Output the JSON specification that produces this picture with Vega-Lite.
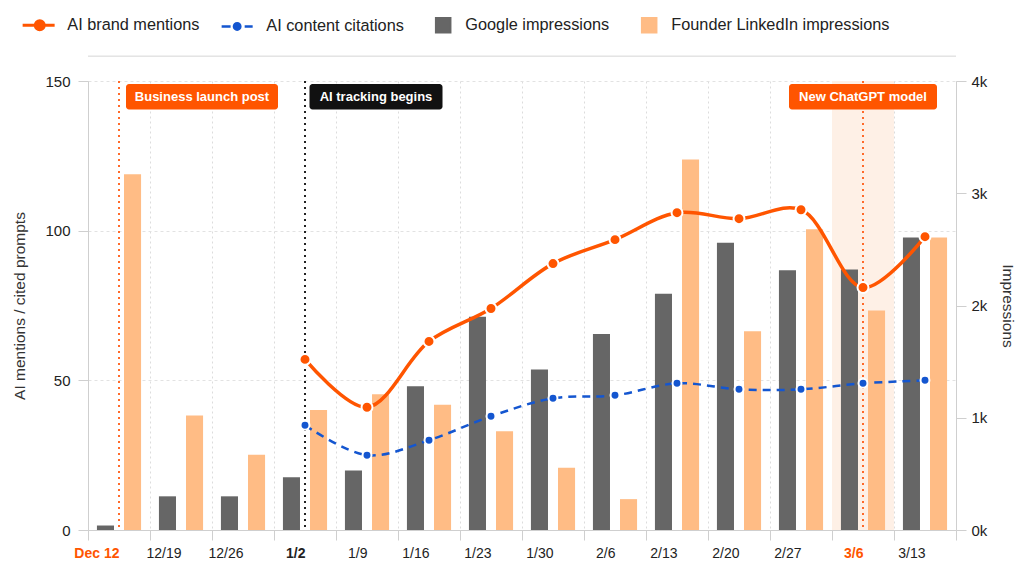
{
  "$schema": "https://vega.github.io/schema/vega-lite/v6.json",
  "width": 868,
  "height": 449,
  "autosize": {"type": "none"},
  "padding": {"left": 88, "top": 81, "right": 68, "bottom": 50},
  "background": "white",
  "config": {
    "font": "Liberation Sans",
    "view": {"stroke": null},
    "axis": {"labelColor": "#222222", "titleColor": "#333333", "titleFontWeight": "normal", "titleFontSize": 15.5}
  },
  "datasets": {
    "bars": [
      {"week": "Dec 12", "series": "Google impressions", "value": 40},
      {"week": "Dec 12", "series": "Founder LinkedIn impressions", "value": 3170},
      {"week": "12/19", "series": "Google impressions", "value": 300},
      {"week": "12/19", "series": "Founder LinkedIn impressions", "value": 1020},
      {"week": "12/26", "series": "Google impressions", "value": 300},
      {"week": "12/26", "series": "Founder LinkedIn impressions", "value": 670},
      {"week": "1/2", "series": "Google impressions", "value": 470},
      {"week": "1/2", "series": "Founder LinkedIn impressions", "value": 1070},
      {"week": "1/9", "series": "Google impressions", "value": 530},
      {"week": "1/9", "series": "Founder LinkedIn impressions", "value": 1210},
      {"week": "1/16", "series": "Google impressions", "value": 1280},
      {"week": "1/16", "series": "Founder LinkedIn impressions", "value": 1115},
      {"week": "1/23", "series": "Google impressions", "value": 1900},
      {"week": "1/23", "series": "Founder LinkedIn impressions", "value": 880},
      {"week": "1/30", "series": "Google impressions", "value": 1430},
      {"week": "1/30", "series": "Founder LinkedIn impressions", "value": 555},
      {"week": "2/6", "series": "Google impressions", "value": 1745},
      {"week": "2/6", "series": "Founder LinkedIn impressions", "value": 275},
      {"week": "2/13", "series": "Google impressions", "value": 2105},
      {"week": "2/13", "series": "Founder LinkedIn impressions", "value": 3300},
      {"week": "2/20", "series": "Google impressions", "value": 2560},
      {"week": "2/20", "series": "Founder LinkedIn impressions", "value": 1770},
      {"week": "2/27", "series": "Google impressions", "value": 2315},
      {"week": "2/27", "series": "Founder LinkedIn impressions", "value": 2680},
      {"week": "3/6", "series": "Google impressions", "value": 2320},
      {"week": "3/6", "series": "Founder LinkedIn impressions", "value": 1955},
      {"week": "3/13", "series": "Google impressions", "value": 2605},
      {"week": "3/13", "series": "Founder LinkedIn impressions", "value": 2605}
    ],
    "lines": [
      {"week": "1/2", "series": "AI brand mentions", "value": 57},
      {"week": "1/9", "series": "AI brand mentions", "value": 41},
      {"week": "1/16", "series": "AI brand mentions", "value": 63},
      {"week": "1/23", "series": "AI brand mentions", "value": 74},
      {"week": "1/30", "series": "AI brand mentions", "value": 89},
      {"week": "2/6", "series": "AI brand mentions", "value": 97},
      {"week": "2/13", "series": "AI brand mentions", "value": 106},
      {"week": "2/20", "series": "AI brand mentions", "value": 104},
      {"week": "2/27", "series": "AI brand mentions", "value": 107},
      {"week": "3/6", "series": "AI brand mentions", "value": 81},
      {"week": "3/13", "series": "AI brand mentions", "value": 98},
      {"week": "1/2", "series": "AI content citations", "value": 35},
      {"week": "1/9", "series": "AI content citations", "value": 25},
      {"week": "1/16", "series": "AI content citations", "value": 30},
      {"week": "1/23", "series": "AI content citations", "value": 38},
      {"week": "1/30", "series": "AI content citations", "value": 44},
      {"week": "2/6", "series": "AI content citations", "value": 45},
      {"week": "2/13", "series": "AI content citations", "value": 49},
      {"week": "2/20", "series": "AI content citations", "value": 47},
      {"week": "2/27", "series": "AI content citations", "value": 47},
      {"week": "3/6", "series": "AI content citations", "value": 49},
      {"week": "3/13", "series": "AI content citations", "value": 50}
    ],
    "events": [
      {"week": "Dec 12", "label": "Business launch post"},
      {"week": "1/2", "label": "AI tracking begins"},
      {"week": "3/6", "label": "New ChatGPT model"}
    ]
  },
  "layer": [
    {
      "layer": [
        {
          "data": {"values": [{"week": "3/6"}]},
          "mark": {"type": "rect", "fill": "#FEF0E6"},
          "encoding": {
            "x": {"field": "week", "type": "nominal"},
            "y": {"datum": 0, "type": "quantitative"},
            "y2": {"datum": 4000}
          }
        },
        {
          "data": {"name": "bars"},
          "mark": {"type": "bar"},
          "encoding": {
            "x": {
              "field": "week",
              "type": "nominal",
              "scale": {
                "domain": ["Dec 12", "12/19", "12/26", "1/2", "1/9", "1/16", "1/23", "1/30", "2/6", "2/13", "2/20", "2/27", "3/6", "3/13"],
                "paddingInner": 0,
                "paddingOuter": 0
              },
              "axis": {
                "title": null,
                "zindex": 0,
                "labelAngle": 0,
                "tickBand": "extent",
                "grid": true,
                "gridDash": [2, 3],
                "gridColor": "#dcdcdc",
                "tickColor": "#cfcfcf",
                "tickSize": 10,
                "domainColor": "#cfcfcf",
                "labelFontSize": 14,
                "labelPadding": 13,
                "labelColor": {"condition": {"test": "datum.value === 'Dec 12' || datum.value === '3/6'", "value": "#FF5500"}, "value": "#222222"},
                "labelFontWeight": {"condition": {"test": "datum.value === 'Dec 12' || datum.value === '3/6' || datum.value === '1/2'", "value": "bold"}, "value": "normal"}
              }
            },
            "xOffset": {
              "field": "series",
              "scale": {"domain": ["Google impressions", "Founder LinkedIn impressions"], "paddingInner": 0.37, "paddingOuter": 0.33}
            },
            "y": {
              "field": "value",
              "type": "quantitative",
              "scale": {"domain": [0, 4000], "nice": false},
              "axis": {
                "orient": "right",
                "zindex": 0,
                "title": "Impressions",
                "values": [0, 1000, 2000, 3000, 4000],
                "format": "~s",
                "grid": false,
                "tickColor": "#cfcfcf",
                "tickSize": 10,
                "domainColor": "#cfcfcf",
                "labelFontSize": 15,
                "labelPadding": 5,
                "titlePadding": 13
              }
            },
            "color": {
              "field": "series",
              "type": "nominal",
              "scale": {
                "domain": ["AI brand mentions", "AI content citations", "Google impressions", "Founder LinkedIn impressions"],
                "range": ["#FF5500", "#1456D0", "#666666", "#FFBC85"]
              },
              "legend": {
                "title": null,
                "orient": "none",
                "legendX": -66,
                "legendY": -64,
                "direction": "horizontal",
                "padding": 0,
                "symbolType": "square",
                "symbolSize": 1024,
                "symbolStrokeWidth": 0,
                "labelFontSize": 16.3,
                "labelColor": "#222222",
                "labelOffset": 29,
                "labelLimit": 400,
                "columnPadding": 16,
                "encode": {
                  "symbols": {
                    "update": {
                      "shape": {"signal": "datum.value === 'AI brand mentions' ? 'M-0.47,0H1.53M0.32,0A0.28,0.28,0,1,0,0.88,0A0.28,0.28,0,1,0,0.32,0Z' : datum.value === 'AI content citations' ? 'M-0.47,0H0.09M0.97,0H1.47M0.3,0A0.2,0.2,0,1,0,0.7,0A0.2,0.2,0,1,0,0.3,0Z' : 'M0.47,-0.47H1.41V0.47H0.47Z'"},
                      "fill": {"signal": "datum.value === 'AI brand mentions' ? '#FF5500' : datum.value === 'AI content citations' ? '#1456D0' : datum.value === 'Google impressions' ? '#666666' : '#FFC897'"},
                      "stroke": {"signal": "datum.value === 'AI brand mentions' ? '#FF5500' : datum.value === 'AI content citations' ? '#1456D0' : datum.value === 'Google impressions' ? '#333333' : '#FF6A1A'"},
                      "strokeWidth": {"signal": "datum.value === 'AI brand mentions' ? 3 : datum.value === 'AI content citations' ? 2.5 : 1.5"},
                      "opacity": {"value": 1},
                      "fillOpacity": {"value": 1},
                      "strokeOpacity": {"value": 1}
                    }
                  }
                }
              }
            }
          }
        }
      ]
    },
    {
      "layer": [
        {
          "data": {"values": [{}]},
          "mark": {"type": "rule", "color": "#d6d6d6", "strokeWidth": 1},
          "encoding": {"y": {"datum": 158.3, "type": "quantitative"}}
        },
        {
          "data": {"name": "events"},
          "mark": {"type": "rule", "strokeDash": [2, 4], "strokeWidth": 2},
          "encoding": {
            "x": {"field": "week", "type": "nominal"},
            "color": {"condition": {"test": "datum.week === '1/2'", "value": "#222222"}, "value": "#FF6A2A"}
          }
        },
        {
          "data": {"name": "lines"},
          "transform": [{"filter": "datum.series === 'AI brand mentions'"}],
          "mark": {"type": "line", "interpolate": "catmull-rom", "strokeWidth": 3.5},
          "encoding": {
            "x": {"field": "week", "type": "nominal"},
            "y": {
              "field": "value",
              "type": "quantitative",
              "scale": {"domain": [0, 150], "nice": false},
              "axis": {
                "orient": "left",
                "zindex": 0,
                "title": "AI mentions / cited prompts",
                "values": [0, 50, 100, 150],
                "grid": true,
                "gridDash": [3, 3],
                "gridColor": "#e2e2e2",
                "tickColor": "#cfcfcf",
                "tickSize": 10,
                "domainColor": "#cfcfcf",
                "labelFontSize": 15,
                "labelPadding": 8,
                "titlePadding": 17
              }
            },
            "color": {"field": "series", "type": "nominal"},
            "order": {"value": null}
          }
        },
        {
          "data": {"name": "lines"},
          "transform": [{"filter": "datum.series === 'AI content citations'"}],
          "mark": {"type": "line", "interpolate": "catmull-rom", "strokeWidth": 2.5, "strokeDash": [8, 6]},
          "encoding": {
            "x": {"field": "week", "type": "nominal"},
            "y": {"field": "value", "type": "quantitative"},
            "color": {"field": "series", "type": "nominal"},
            "order": {"value": null}
          }
        },
        {
          "data": {"name": "lines"},
          "mark": {"type": "point", "filled": true, "opacity": 1, "stroke": "white", "strokeWidth": 2},
          "encoding": {
            "x": {"field": "week", "type": "nominal"},
            "y": {"field": "value", "type": "quantitative"},
            "color": {"field": "series", "type": "nominal"},
            "size": {"condition": {"test": "datum.series === 'AI brand mentions'", "value": 120}, "value": 80}
          }
        },
        {
          "data": {"name": "events"},
          "transform": [{"filter": "datum.week === 'Dec 12'"}],
          "layer": [
            {
              "mark": {"type": "rect", "fill": "#FF5500", "cornerRadius": 3, "width": 152, "xOffset": 83},
              "encoding": {
                "x": {"field": "week", "type": "nominal"},
                "y": {"datum": 149, "type": "quantitative"},
                "y2": {"datum": 140.5}
              }
            },
            {
              "mark": {"type": "text", "color": "white", "fontWeight": "bold", "fontSize": 13, "xOffset": 83, "baseline": "middle", "align": "center"},
              "encoding": {
                "x": {"field": "week", "type": "nominal"},
                "y": {"datum": 144.7, "type": "quantitative"},
                "text": {"field": "label"}
              }
            }
          ]
        },
        {
          "data": {"name": "events"},
          "transform": [{"filter": "datum.week === '1/2'"}],
          "layer": [
            {
              "mark": {"type": "rect", "fill": "#111111", "cornerRadius": 3, "width": 133, "xOffset": 71},
              "encoding": {
                "x": {"field": "week", "type": "nominal"},
                "y": {"datum": 149, "type": "quantitative"},
                "y2": {"datum": 140.5}
              }
            },
            {
              "mark": {"type": "text", "color": "white", "fontWeight": "bold", "fontSize": 13, "xOffset": 71, "baseline": "middle", "align": "center"},
              "encoding": {
                "x": {"field": "week", "type": "nominal"},
                "y": {"datum": 144.7, "type": "quantitative"},
                "text": {"field": "label"}
              }
            }
          ]
        },
        {
          "data": {"name": "events"},
          "transform": [{"filter": "datum.week === '3/6'"}],
          "layer": [
            {
              "mark": {"type": "rect", "fill": "#FF5500", "cornerRadius": 3, "width": 148, "xOffset": 0},
              "encoding": {
                "x": {"field": "week", "type": "nominal"},
                "y": {"datum": 149, "type": "quantitative"},
                "y2": {"datum": 140.5}
              }
            },
            {
              "mark": {"type": "text", "color": "white", "fontWeight": "bold", "fontSize": 13, "baseline": "middle", "align": "center"},
              "encoding": {
                "x": {"field": "week", "type": "nominal"},
                "y": {"datum": 144.7, "type": "quantitative"},
                "text": {"field": "label"}
              }
            }
          ]
        }
      ]
    }
  ],
  "resolve": {"scale": {"y": "independent"}}
}
